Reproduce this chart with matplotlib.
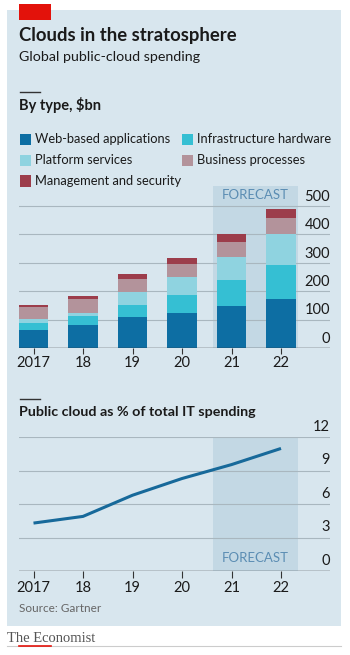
import matplotlib.pyplot as plt
from matplotlib.patches import Rectangle
from matplotlib.lines import Line2D
import numpy as np

years = ["2017", "18", "19", "20", "21", "22"]
series_names = ["Web-based applications", "Infrastructure hardware", "Platform services",
                "Business processes", "Management and security"]
web = [64, 80, 108, 123, 149, 173]
infra = [24, 31, 44, 63, 91, 121]
platform = [14, 14, 45, 63, 82, 106]
business = [41, 47, 45, 46, 52, 58]
mgmt = [9, 11, 19, 23, 26, 31]
share_pct = [4.3, 4.9, 6.8, 8.3, 9.55, 11.0]

colors = ["#0d6ea3", "#35bfd3", "#8fd3e0", "#b3939b", "#9c3d4b"]
panel = "#d8e6ee"
shade = "#c3d8e4"
grid_c = "#a9b7bf"
text_c = "#1a1a1a"

plt.rcParams['font.family'] = ['Lato', 'DejaVu Sans']

W, H = 350, 655
fig = plt.figure(figsize=(W / 100, H / 100), dpi=100)
fig.patch.set_facecolor("white")


def fx(x):
    return x / W


def fy(y):
    return 1 - y / H


def box(x0, y0, x1, y1, color):
    fig.add_artist(Rectangle((fx(x0), fy(y1)), fx(x1) - fx(x0), fy(y0) - fy(y1),
                             transform=fig.transFigure, color=color, lw=0, zorder=0))


# background panel and header
box(7, 10, 341, 626, panel)
box(19, 4, 51, 20, "#e3120b")
fig.text(fx(19), fy(35), "Clouds in the stratosphere", fontsize=13.3, fontweight="bold",
         color=text_c, va="center")
fig.text(fx(19), fy(57), "Global public-cloud spending", fontsize=10.3, color=text_c, va="center")
fig.add_artist(Line2D([fx(20), fx(40)], [fy(92), fy(92)], transform=fig.transFigure, color="#333333", lw=1))
fig.text(fx(19), fy(105), "By type, $bn", fontsize=10.5, fontweight="bold", color=text_c, va="center")

# legend
leg_pos = [(20, 139), (182, 139), (20, 160), (182, 160), (20, 181)]
for (lx, ly), name, c in zip(leg_pos, series_names, colors):
    box(lx, ly - 5.5, lx + 11, ly + 5.5, c)
    fig.text(fx(lx + 15), fy(ly), name, fontsize=9.3, color=text_c, va="center")

x = np.arange(len(years))
xlim = ((19 - 33.5) / 49.5, (330 - 33.5) / 49.5)
fc0, fc1 = (213 - 33.5) / 49.5, (298 - 33.5) / 49.5

# bar chart
ax = fig.add_axes([fx(19), fy(348), fx(330) - fx(19), fy(186) - fy(348)])
ax.set_facecolor("none")
top = 500 * (348 - 186) / (348 - 206)
ax.set_ylim(0, top)
ax.set_xlim(*xlim)
ax.axvspan(fc0, fc1, ymin=0, ymax=1, color=shade, lw=0, zorder=0)
for v in [100, 200, 300, 400, 500]:
    ax.axhline(v, color=grid_c, lw=0.8, zorder=1)
    ax.text(xlim[1], v + 8, str(v), ha="right", va="bottom", fontsize=10.5, color=text_c)
ax.text(xlim[1], 8, "0", ha="right", va="bottom", fontsize=10.5, color=text_c)
bottom = np.zeros(len(years))
for vals, c in zip([web, infra, platform, business, mgmt], colors):
    ax.bar(x, vals, 0.59, bottom=bottom, color=c, zorder=2, lw=0)
    bottom += np.array(vals)
ax.axhline(0, color="#333333", lw=1, zorder=3)
ax.text((fc0 + fc1) / 2, 500 + 40, "FORECAST", ha="center", va="center", fontsize=9.5, color="#5b8db3")
ax.set_xticks(x)
ax.set_xticklabels(years, fontsize=10.5, color=text_c)
ax.tick_params(axis="x", length=4, width=0.8, color="#333333", pad=2)
ax.set_yticks([])
for s in ax.spines.values():
    s.set_visible(False)

# line chart
fig.add_artist(Line2D([fx(20), fx(40)], [fy(399), fy(399)], transform=fig.transFigure, color="#333333", lw=1))
fig.text(fx(19), fy(412), "Public cloud as % of total IT spending", fontsize=10.3, fontweight="bold",
         color=text_c, va="center")
ax2 = fig.add_axes([fx(19), fy(571), fx(330) - fx(19), fy(437.3) - fy(571)])
ax2.set_facecolor("none")
ax2.set_ylim(0, 12)
ax2.set_xlim(*xlim)
ax2.axvspan(fc0, fc1, color=shade, lw=0, zorder=0)
for v in [3, 6, 9, 12]:
    ax2.axhline(v, color=grid_c, lw=0.8, zorder=1)
for v in [0, 3, 6, 9, 12]:
    ax2.text(xlim[1], v + 0.3, str(v), ha="right", va="bottom", fontsize=10.5, color=text_c)
ax2.plot(x, share_pct, color="#17699a", lw=2.2, zorder=3, solid_capstyle="butt")
ax2.axhline(0, color="#333333", lw=1, zorder=3)
ax2.text((fc0 + fc1) / 2, 1.2, "FORECAST", ha="center", va="center", fontsize=9.5, color="#5b8db3")
ax2.set_xticks(x)
ax2.set_xticklabels(years, fontsize=10.5, color=text_c)
ax2.tick_params(axis="x", length=5, width=0.8, color="#333333", pad=2)
ax2.set_yticks([])
for s in ax2.spines.values():
    s.set_visible(False)

fig.text(fx(19), fy(609), "Source: Gartner", fontsize=8.5, color="#666666", va="center")

# footer
fig.text(fx(7), fy(638), "The Economist", fontsize=10.5, color="#555555", va="center",
         family=["Liberation Serif", "DejaVu Serif"])
fig.add_artist(Line2D([fx(7), fx(341)], [fy(646), fy(646)], transform=fig.transFigure, color="#cccccc", lw=0.8))
fig.add_artist(Line2D([fx(19), fx(51)], [fy(646), fy(646)], transform=fig.transFigure, color="#e3120b", lw=1.2))

fig.savefig("out.png", dpi=100)
